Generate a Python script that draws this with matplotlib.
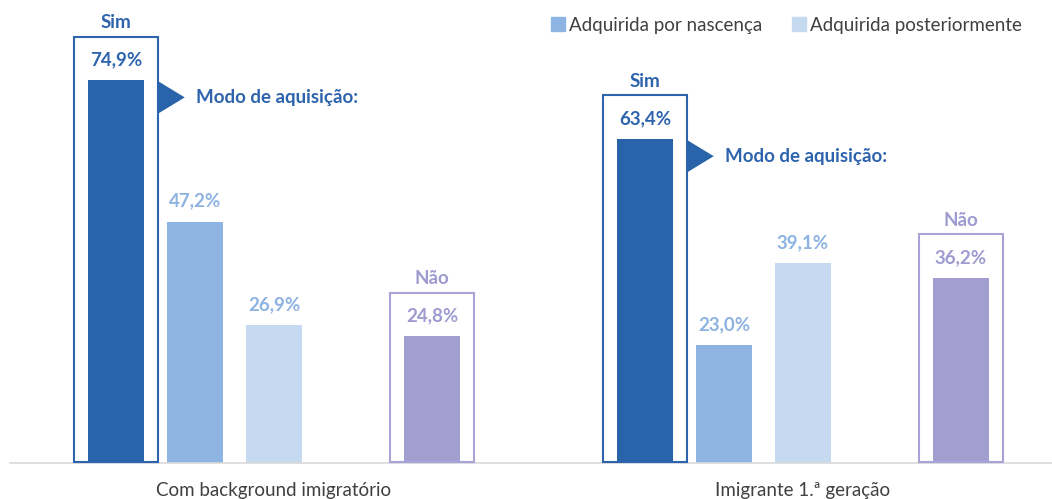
import matplotlib
matplotlib.use('Agg')
import numpy as np
import matplotlib.pyplot as plt
from matplotlib.patches import Rectangle, Polygon, Patch

# data
groups = ["Com background imigratório", "Imigrante 1.ª geração"]
sim = [74.9, 63.4]
por_nascenca = [47.2, 23.0]
posteriormente = [26.9, 39.1]
nao = [24.8, 36.2]
legend_labels = ["Adquirida por nascença", "Adquirida posteriormente"]

#colours
C_SIM = '#2963A9'
C_NASC = '#8EB4E3'
C_POST = '#C5D9F1'
C_NAO = '#A29FD0'
T_SIM = '#2E64AD'
T_MID = '#8DB3E2'
T_NAO = '#9F9BD0'
GREY = '#404040'

plt.rcParams['font.family'] = ['Lato', 'DejaVu Sans']

fig = plt.figure(figsize=(10.52, 4.99), dpi=100)
ax = fig.add_axes([10/1052, 36/499, 1042/1052, 463/499])

slots = np.array([0, 1, 2, 4])   # position of the 4 bars inside a group
group_step = 6.696
width = 0.71
box_w = 1.06
FS = 13.5

for g in range(len(groups)):
    x0 = g*group_step
    vals = [sim[g], por_nascenca[g], posteriormente[g], nao[g]]
    cols = [C_SIM, C_NASC, C_POST, C_NAO]
    tcols = [T_SIM, T_MID, T_MID, T_NAO]
    xs = x0 + slots
    ax.bar(xs, vals, width=width, color=cols, zorder=2)
    for x, v, tc in zip(xs, vals, tcols):
        ax.text(x, v + 4.0, "{:.1f}%".format(v).replace('.', ','), ha='center', va='center',
                color=tc, fontsize=FS, fontweight='bold')
    # boxes for Sim / Nao
    for x, v, ec, lab in [(xs[0], vals[0], T_SIM, "Sim"), (xs[3], vals[3], '#A9A4D8', "Não")]:
        ax.add_patch(Rectangle((x - box_w/2, 0.1), box_w, v + 8.4, fill=False,
                               edgecolor=ec, lw=1.5, zorder=3, clip_on=False))
        ax.text(x, v + 11.2, lab, ha='center', va='center', color=ec if lab == "Sim" else T_NAO,
                fontsize=FS, fontweight='bold')
    # arrow + text
    xl = xs[0] + box_w/2 + 0.01
    yc = vals[0] - 3.4
    ax.add_patch(Polygon([[xl, yc + 3.1], [xl + 0.33, yc], [xl, yc - 3.1]],
                         closed=True, color=C_SIM, lw=0, zorder=3))
    ax.text(xl + 0.47, yc, "Modo de aquisição:", ha='left', va='center',
            color=T_SIM, fontsize=FS, fontweight='bold')
    ax.text(x0 + 2, -5.3, groups[g], ha='center', va='center', color=GREY,
            fontsize=FS, clip_on=False)

ax.set_xlim(-1.342, 11.848)
ax.set_ylim(0, 90.55)
for s in ['top', 'right', 'left']:
    ax.spines[s].set_visible(False)
ax.spines['bottom'].set_color('#D9D9D9')
ax.spines['bottom'].set_linewidth(1.2)
ax.set_xticks([])
ax.set_yticks([])

handles = [Patch(color=C_NASC), Patch(color=C_POST)]
leg = fig.legend(handles, legend_labels, loc='center right', bbox_to_anchor=(1022/1052, 1 - 25/499),
                 ncol=2, frameon=False, fontsize=FS, handlelength=0.75, handleheight=0.75,
                 handletextpad=0.2, columnspacing=1.6, borderaxespad=0, borderpad=0)
for t in leg.get_texts():
    t.set_color(GREY)

plt.savefig('out.png', dpi=100)
